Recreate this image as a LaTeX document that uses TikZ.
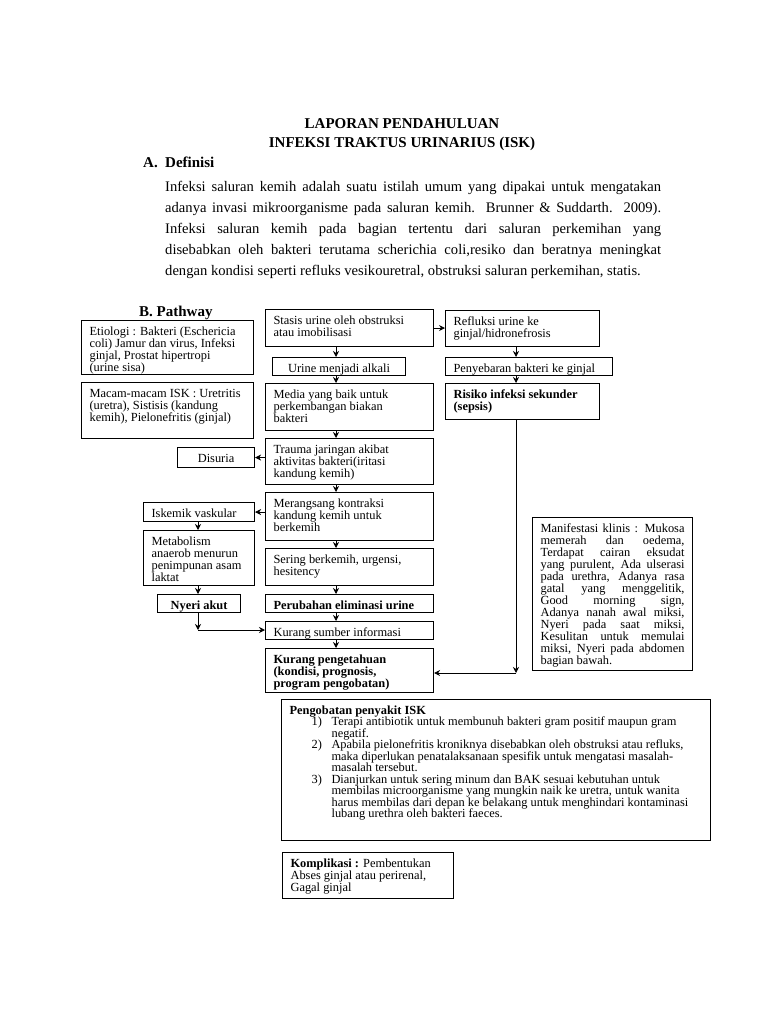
\documentclass[tikz,border=0pt]{standalone}
\usepackage{fontspec}
\setmainfont{Liberation Serif}
\usetikzlibrary{arrows.meta}

\newcommand{\isi}[3]{\parbox[c][\dimexpr#2pt-6pt\relax][t]{\dimexpr#1pt-16pt\relax}{\rule{0pt}{11.5pt}#3}}
\newcommand{\baris}[1]{\makebox[496pt][s]{\spaceskip=0pt\xspaceskip=0pt #1}}

\begin{document}
\begin{tikzpicture}[x=1pt,y=-1pt,
  blok/.style={draw, line width=1.1pt, anchor=north west, inner xsep=8pt, inner ysep=3pt, font=\fontsize{12.4}{12}\selectfont},
  panah/.style={-{Stealth[length=6pt,width=6pt]}, line width=0.8pt},
  judul/.style={font=\bfseries\fontsize{15}{15}\selectfont, anchor=base}]
  \path[use as bounding box, fill=white] (0,0) rectangle (768,1024);

  % judul dan definisi
  \node[judul] (lap) at (402,129) {LAPORAN PENDAHULUAN};
  \node[judul] (isk) at (402,148) {INFEKSI TRAKTUS URINARIUS (ISK)};
  \node[judul, anchor=base west, inner sep=0pt] (hurufA) at (143,168) {A.};
  \node[judul, anchor=base west, inner sep=0pt] (def) at (165,168) {Definisi};
  \node[anchor=base west, inner sep=0pt, text width=496pt, align=justify, font=\fontsize{14.6}{21}\selectfont] (para) at (165,192)
    {\baris{Infeksi saluran kemih adalah suatu istilah umum yang dipakai untuk mengatakan}\\
     \baris{adanya invasi mikroorganisme pada saluran kemih. Brunner \& Suddarth. 2009).}\\
     \baris{Infeksi saluran kemih pada bagian tertentu dari saluran perkemihan yang}\\
     \baris{disebabkan oleh bakteri terutama scherichia coli,resiko dan beratnya meningkat}\\
     dengan kondisi seperti refluks vesikouretral, obstruksi saluran perkemihan, statis.};
  \node[judul, anchor=base west, inner sep=0pt] (path) at (139,316) {B. Pathway};

  % kolom kiri
  \node[blok] (etiologi) at (81,320) {\isi{172}{54}{Etiologi : Bakteri (Eschericia\\ coli) Jamur dan virus, Infeksi\\ ginjal, Prostat hipertropi\\ (urine sisa)}};
  \node[blok] (macam) at (81,382) {\isi{172}{56}{Macam-macam ISK : Uretritis\\ (uretra), Sistisis (kandung\\ kemih), Pielonefritis (ginjal)}};
  \node[blok] (disuria) at (177,447) {\isi{77}{20}{\centering Disuria}};
  \node[blok] (iskemik) at (143,502) {\isi{111}{19}{Iskemik vaskular}};
  \node[blok] (metab) at (143,530) {\isi{111}{55}{Metabolism\\ anaerob menurun\\ penimpunan asam\\ laktat}};
  \node[blok] (nyeri) at (157,594) {\isi{83}{18}{\centering\bfseries Nyeri akut}};

  % kolom tengah
  \node[blok] (stasis) at (265,309) {\isi{168}{37}{Stasis urine oleh obstruksi\\ atau imobilisasi}};
  \node[blok] (alkali) at (272,357) {\isi{133}{18}{\centering Urine menjadi alkali}};
  \node[blok] (media) at (265,383) {\isi{168}{47}{Media yang baik untuk\\ perkembangan biakan\\ bakteri}};
  \node[blok] (trauma) at (265,438) {\isi{168}{46}{Trauma jaringan akibat\\ aktivitas bakteri(iritasi\\ kandung kemih)}};
  \node[blok] (rangsang) at (265,492) {\isi{168}{48}{Merangsang kontraksi\\ kandung kemih untuk\\ berkemih}};
  \node[blok] (sering) at (265,548) {\isi{168}{37}{Sering berkemih, urgensi,\\ hesitency}};
  \node[blok] (ubah) at (265,594) {\isi{168}{18}{\bfseries Perubahan eliminasi urine}};
  \node[blok] (sumber) at (265,621) {\isi{168}{18}{Kurang sumber informasi}};
  \node[blok] (tahu) at (265,648) {\isi{168}{44}{\bfseries Kurang pengetahuan\\ (kondisi, prognosis,\\ program pengobatan)}};

  % kolom kanan
  \node[blok] (refluksi) at (445,310) {\isi{154}{36}{Refluksi urine ke\\ ginjal/hidronefrosis}};
  \node[blok] (sebar) at (445,357) {\isi{167}{18}{Penyebaran bakteri ke ginjal}};
  \node[blok] (risiko) at (445,383) {\isi{154}{36}{\bfseries Risiko infeksi sekunder\\ (sepsis)}};
  \node[blok] (klinis) at (532,517) {\isi{160}{153}{Manifestasi klinis : Mukosa\linebreak
    memerah dan oedema,\linebreak Terdapat cairan eksudat\linebreak
    yang purulent, Ada ulserasi\linebreak pada urethra, Adanya rasa\linebreak
    gatal yang menggelitik,\linebreak Good morning sign,\linebreak
    Adanya nanah awal miksi,\linebreak Nyeri pada saat miksi,\linebreak
    Kesulitan untuk memulai\linebreak miksi, Nyeri pada abdomen\linebreak bagian bawah.}};

  % kotak bawah
  \node[blok, font=\fontsize{12.4}{11.5}\selectfont] (obat) at (281,699) {\isi{429}{141}{\textbf{Pengobatan penyakit ISK}\\
    \hspace*{22pt}\makebox[20pt][l]{1)}Terapi antibiotik untuk membunuh bakteri gram positif maupun gram\\
    \hspace*{42pt}negatif.\\
    \hspace*{22pt}\makebox[20pt][l]{2)}Apabila pielonefritis kroniknya disebabkan oleh obstruksi atau refluks,\\
    \hspace*{42pt}maka diperlukan penatalaksanaan spesifik untuk mengatasi masalah-\\
    \hspace*{42pt}masalah tersebut.\\
    \hspace*{22pt}\makebox[20pt][l]{3)}Dianjurkan untuk sering minum dan BAK sesuai kebutuhan untuk\\
    \hspace*{42pt}membilas microorganisme yang mungkin naik ke uretra, untuk wanita\\
    \hspace*{42pt}harus membilas dari depan ke belakang untuk menghindari kontaminasi\\
    \hspace*{42pt}lubang urethra oleh bakteri faeces.}};
  \node[blok, font=\fontsize{12.4}{11}\selectfont] (komp) at (282,852) {\isi{171}{46}{\textbf{Komplikasi :} Pembentukan\\ Abses ginjal atau perirenal,\\ Gagal ginjal}};

  % jalur panah
  \coordinate (mx) at (336,0);
  \coordinate (rx) at (516,0);
  \coordinate (lx) at (198,0);
  \coordinate (siku) at (198,630);
  \coordinate (sudut) at (516,673);

  \draw[panah] (stasis.east) -- (refluksi.west |- stasis.east);
  \draw[panah] (stasis.south -| mx) -- (alkali.north -| mx);
  \draw[panah] (alkali.south -| mx) -- (media.north -| mx);
  \draw[panah] (media.south -| mx) -- (trauma.north -| mx);
  \draw[panah] (trauma.south -| mx) -- (rangsang.north -| mx);
  \draw[panah] (rangsang.south -| mx) -- (sering.north -| mx);
  \draw[panah] (sering.south -| mx) -- (ubah.north -| mx);
  \draw[panah] (ubah.south -| mx) -- (sumber.north -| mx);
  \draw[panah] (sumber.south -| mx) -- (tahu.north -| mx);

  \draw[panah] (refluksi.south -| rx) -- (sebar.north -| rx);
  \draw[panah] (sebar.south -| rx) -- (risiko.north -| rx);
  \draw[panah] (risiko.south -| sudut) -- (sudut);
  \draw[panah] (sudut) -- (tahu.east |- sudut);

  \draw[panah] (trauma.west |- disuria) -- (disuria.east);
  \draw[panah] (rangsang.west |- iskemik) -- (iskemik.east);
  \draw[panah] (iskemik.south -| lx) -- (metab.north -| lx);
  \draw[panah] (metab.south -| lx) -- (nyeri.north -| lx);
  \draw[panah] (nyeri.south -| siku) -- (siku);
  \draw[panah] (siku) -- (sumber.west |- siku);
\end{tikzpicture}
\end{document}
